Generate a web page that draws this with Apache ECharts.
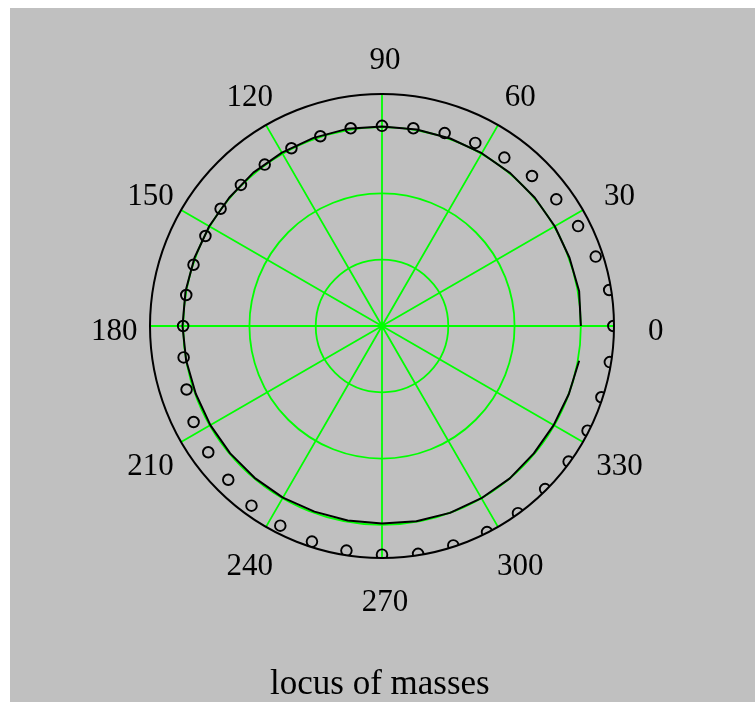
<!DOCTYPE html>
<html>
<head>
<meta charset="utf-8">
<script src="https://cdn.jsdelivr.net/npm/echarts@6/dist/echarts.min.js"></script>
<style>
  html, body { margin: 0; padding: 0; background: #ffffff; width: 755px; height: 702px; overflow: hidden; }
  #chart { position: absolute; left: 10px; top: 8px; width: 745px; height: 694px; }
</style>
</head>
<body>
<div id="chart"></div>
<script>
// ---- data ----
var angleTickLabels = ['0', '30', '60', '90', '120', '150', '180', '210', '240', '270', '300', '330'];

var lineAngles = [0, 10, 20, 30, 40, 50, 60, 70, 80, 90, 100, 110, 120, 130, 140, 150, 160, 170,
                  180, 190, 200, 210, 220, 230, 240, 250, 260, 270, 280, 290, 300, 310, 320, 330, 340, 350];
var lineRadii = [3.00, 3.02, 3.01, 3.01, 3.01, 3.01, 3.01, 3.01, 3.01, 3.01, 3.02, 3.02, 3.02, 3.02, 3.01, 3.01, 3.01, 3.01,
                 3.01, 3.00, 2.99, 2.99, 2.99, 2.99, 2.99, 2.98, 2.98, 2.98, 2.99, 3.00, 3.00, 3.00, 2.99, 2.99, 3.00, 3.02];

var markerAngles = [0, 9, 18, 27, 36, 45, 54, 63, 72, 81, 90, 99, 108, 117, 126, 135, 144, 153, 162, 171,
                    180, 189, 198, 207, 216, 225, 234, 243, 252, 261, 270, 279, 288, 297, 306, 315, 324, 333, 342, 351];
var markerRadii = [3.49, 3.47, 3.39, 3.32, 3.25, 3.20, 3.14, 3.10, 3.06, 3.02, 3.02, 3.02, 3.01, 3.01, 3.01, 3.01, 3.01, 2.99, 2.99, 2.99,
                   3.00, 3.03, 3.10, 3.19, 3.24, 3.28, 3.35, 3.38, 3.42, 3.43, 3.45, 3.48, 3.48, 3.49, 3.49, 3.48, 3.48, 3.48, 3.48, 3.48];

var radiusMax = 3.5;
var radiusTickStep = 1;
var titleText = 'locus of masses';

// ---- build ----
var lineData = lineAngles.map(function (a, i) { return [lineRadii[i], a]; });
var markerData = markerAngles.map(function (a, i) { return [markerRadii[i], a]; });
var LABEL_R = 4.084;
var labelData = angleTickLabels.map(function (t) { return [LABEL_R, Number(t)]; });

var FONT = '"Liberation Serif", "Times New Roman", serif';
var chart = echarts.init(document.getElementById('chart'), null, { renderer: 'canvas' });

chart.setOption({
  animation: false,
  backgroundColor: '#c0c0c0',
  title: {
    text: titleText,
    left: 260,
    top: 659,
    padding: 0,
    textStyle: { fontFamily: FONT, fontSize: 35, fontWeight: 'normal', color: '#000000' }
  },
  polar: {
    center: [372, 318],
    radius: 232
  },
  angleAxis: {
    type: 'value',
    min: 0,
    max: 360,
    interval: 30,
    startAngle: 0,
    clockwise: false,
    z: 3,
    axisLine: { show: true, lineStyle: { color: '#000000', width: 2 } },
    axisTick: { show: false },
    axisLabel: { show: false },
    splitLine: { show: true, lineStyle: { color: '#00ff00', width: 1.8 } }
  },
  radiusAxis: {
    type: 'value',
    min: 0,
    max: radiusMax,
    interval: radiusTickStep,
    z: 1,
    axisLine: { show: false },
    axisTick: { show: false },
    axisLabel: { show: false },
    splitLine: {
      show: true,
      lineStyle: { color: ['#00ff00', '#00ff00', '#00ff00', '#00ff00', 'rgba(0,0,0,0)'], width: 1.8 }
    }
  },
  series: [
    {
      type: 'line',
      coordinateSystem: 'polar',
      data: lineData,
      showSymbol: false,
      symbol: 'none',
      z: 4,
      lineStyle: { color: '#000000', width: 2 }
    },
    {
      type: 'custom',
      coordinateSystem: 'polar',
      clip: true,
      z: 5,
      data: markerData,
      renderItem: function (params, api) {
        var p = api.coord([api.value(0), api.value(1)]);
        return {
          type: 'circle',
          shape: { cx: p[0], cy: p[1], r: 5.3 },
          style: { fill: 'none', stroke: '#000000', lineWidth: 1.9 }
        };
      }
    },
    {
      type: 'scatter',
      coordinateSystem: 'polar',
      clip: false,
      silent: true,
      z: 6,
      symbolSize: 0,
      itemStyle: { color: '#000000', opacity: 1 },
      data: labelData,
      label: {
        show: true,
        position: 'inside',
        offset: [3, 6],
        formatter: function (p) { return angleTickLabels[p.dataIndex]; },
        fontFamily: FONT,
        fontSize: 31,
        color: '#000000',
        opacity: 1,
        textBorderWidth: 0
      }
    }
  ]
});
</script>
</body>
</html>
